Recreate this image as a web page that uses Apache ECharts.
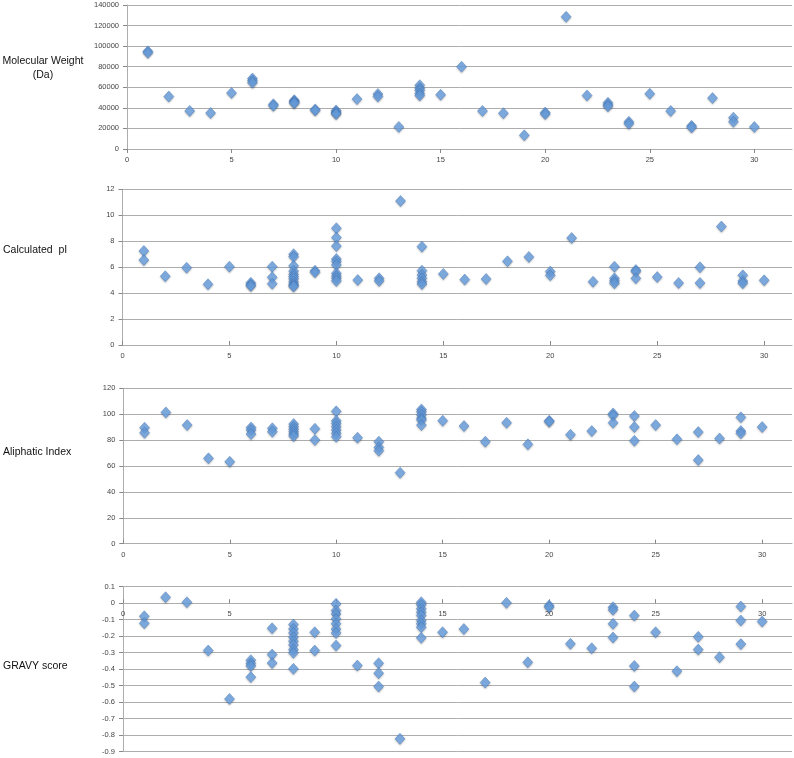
<!DOCTYPE html>
<html>
<head>
<meta charset="utf-8">
<script src="https://cdn.jsdelivr.net/npm/echarts@6/dist/echarts.min.js"></script>
<style>html,body{margin:0;padding:0;background:#fff}#c{width:794px;height:758px}</style>
</head>
<body>
<div id="c"></div>
<script>
// Panel titles
const panelTitles = ['Molecular Weight\n(Da)', 'Calculated  pI', 'Aliphatic Index', 'GRAVY score'];

// Molecular weight (Da): [group, value]
const mwData = [
  [1,95000],[1,93500],[2,51000],[3,37000],[4,35000],[5,54500],
  [6,68500],[6,66500],[6,64500],[7,43500],[7,42000],
  [8,47500],[8,46500],[8,45500],[8,44500],[9,38500],[9,37500],
  [10,37500],[10,36000],[10,35000],[10,34000],[11,48500],[12,53500],[12,51000],
  [13,21500],[14,62000],[14,59000],[14,57000],[14,54000],[14,52000],
  [15,52700],[16,80000],[17,37000],[18,34800],[19,13300],[20,35500],[20,34000],
  [21,128500],[22,52000],[23,45000],[23,43000],[23,41500],[24,26500],[24,24500],
  [25,53700],[26,37000],[27,22500],[27,21000],[28,49500],[29,30500],[29,26500],[30,21400]
];

// Calculated pI
const piData = [
  [1,7.25],[1,6.55],[2,5.3],[3,5.96],[4,4.68],[5,6.04],
  [6,4.8],[6,4.65],[6,4.55],[7,6.04],[7,5.22],[7,4.73],
  [8,7.0],[8,6.8],[8,6.1],[8,5.7],[8,5.45],[8,5.27],[8,5.1],[8,4.88],[8,4.7],[8,4.6],[8,4.5],
  [9,5.73],[9,5.6],
  [10,9.0],[10,8.28],[10,7.63],[10,6.63],[10,6.43],[10,6.17],[10,5.53],[10,5.32],[10,5.14],[10,4.94],
  [11,5.01],[12,5.14],[12,4.94],[13,11.1],
  [14,7.58],[14,5.73],[14,5.4],[14,5.14],[14,4.88],[14,4.7],
  [15,5.48],[16,5.04],[17,5.09],[18,6.45],[19,6.79],[20,5.66],[20,5.37],[21,8.25],[22,4.88],
  [23,6.04],[23,5.14],[23,4.94],[23,4.76],[24,5.78],[24,5.66],[24,5.14],[25,5.24],[26,4.78],
  [27,5.99],[27,4.78],[28,9.13],[29,5.37],[29,4.94],[29,4.76],[30,4.99]
];

// Aliphatic index
const aiData = [
  [1,89.6],[1,85.7],[2,101.4],[3,91.6],[4,65.9],[5,63.3],
  [6,89.8],[6,87.8],[6,84.7],[7,89.1],[7,86.5],
  [8,92.4],[8,90.3],[8,88.3],[8,86.5],[8,84.7],[8,83.1],[9,88.8],[9,80.1],
  [10,102.2],[10,95],[10,92.9],[10,90.3],[10,87.8],[10,85.2],[10,82.6],
  [11,81.9],[12,78.8],[12,74.4],[12,71.8],[13,54.8],
  [14,103.7],[14,101.9],[14,99.4],[14,96.8],[14,95.5],[14,91.6],
  [15,95],[16,90.9],[17,78.8],[18,93.4],[19,76.7],[20,95],[20,94.2],[21,84.2],[22,87],
  [23,100.6],[23,99.1],[23,93.4],[24,98.6],[24,90.1],[24,79.5],[25,91.6],[26,80.6],
  [27,86.2],[27,64.6],[28,81.3],[29,97.6],[29,87],[29,85.2],[30,90.1]
];

// GRAVY score
const gravyData = [
  [1,-0.079],[1,-0.121],[2,0.036],[3,0.006],[4,-0.287],[5,-0.58],
  [6,-0.345],[6,-0.365],[6,-0.38],[6,-0.448],[7,-0.152],[7,-0.311],[7,-0.362],
  [8,-0.129],[8,-0.156],[8,-0.18],[8,-0.206],[8,-0.23],[8,-0.253],[8,-0.281],[8,-0.301],[8,-0.398],
  [9,-0.176],[9,-0.287],
  [10,-0.004],[10,-0.044],[10,-0.065],[10,-0.095],[10,-0.125],[10,-0.156],[10,-0.18],[10,-0.257],
  [11,-0.378],[12,-0.364],[12,-0.424],[12,-0.505],[13,-0.822],
  [14,0.006],[14,-0.01],[14,-0.034],[14,-0.055],[14,-0.075],[14,-0.105],[14,-0.125],[14,-0.145],[14,-0.21],
  [15,-0.176],[16,-0.156],[17,-0.481],[18,0.002],[19,-0.358],[20,-0.014],[20,-0.024],
  [21,-0.246],[22,-0.273],[23,-0.024],[23,-0.04],[23,-0.125],[23,-0.208],
  [24,-0.075],[24,-0.38],[24,-0.505],[25,-0.176],[26,-0.412],[27,-0.204],[27,-0.281],
  [28,-0.327],[29,-0.02],[29,-0.105],[29,-0.248],[30,-0.111]
];

// Axis ranges
const xTickStep = 5;
const yRanges = [
  {min:0, max:140000, interval:20000},
  {min:0, max:12, interval:2},
  {min:0, max:120, interval:20},
  {min:-0.9, max:0.1, interval:0.1}
];
const xMaxes = [31.8, 31.3, 31.4, 31.4];

const layout = [
  {left:127, top:5, width:665, height:144, titleX:43, titleY:68, align:'center'},
  {left:122.5, top:189.3, width:669.5, height:155.7, titleX:3, titleY:250, align:'left'},
  {left:123.3, top:388.3, width:668.7, height:155.4, titleX:3, titleY:452, align:'left'},
  {left:123, top:586.7, width:669, height:165, titleX:3, titleY:666, align:'left'}
];
const allData = [mwData, piData, aiData, gravyData];

const gridLine = '#adadad';
const labelColor = '#444';
const labelFont = '"Liberation Sans", Arial, sans-serif';

const option = {
  animation:false,
  backgroundColor:'#fff',
  grid: layout.map(l => ({left:l.left, top:l.top, width:l.width, height:l.height, containLabel:false})),
  xAxis: layout.map((l,i) => {
    const r = yRanges[i];
    // x axis crosses the y axis at value 0 (inside the plot when 0 is not the minimum)
    const zeroOffset = r.min < 0 ? -((0 - r.min) / (r.max - r.min)) * l.height : 0;
    return {
      type:'value', gridIndex:i, min:0, max:xMaxes[i], interval:xTickStep,
      position:'bottom', offset:zeroOffset,
      axisLine:{show:true, onZero:false, lineStyle:{color:gridLine, width:1}},
      axisTick:{show:true, length:4, inside: i>0, lineStyle:{color:'#888'}},
      splitLine:{show:false},
      axisLabel:{color:labelColor, fontSize:7.5, fontFamily:labelFont, margin:7, showMaxLabel:false,
        formatter: v => (Math.abs(v % xTickStep) < 1e-9 ? String(v) : '')}
    };
  }),
  yAxis: layout.map((l,i) => ({
    type:'value', gridIndex:i, min:yRanges[i].min, max:yRanges[i].max, interval:yRanges[i].interval,
    axisLine:{show:true, onZero:false, lineStyle:{color:gridLine, width:1}},
    axisTick:{show:true, length:4, lineStyle:{color:'#888'}},
    splitLine:{show:true, lineStyle:{color:gridLine, width:1}},
    axisLabel:{color:labelColor, fontSize:7.5, fontFamily:labelFont, margin:8,
      formatter: v => String(Math.round(v*1000)/1000)}
  })),
  graphic: layout.map((l,i) => ({
    type:'text', x:l.titleX, y:l.titleY,
    style:{text:panelTitles[i], fill:'#111', font:'10.5px "Liberation Sans", Arial, sans-serif',
      textAlign:l.align, textVerticalAlign:'middle', lineHeight:14}
  })),
  series: allData.map((d,i) => ({
    type:'scatter', xAxisIndex:i, yAxisIndex:i, data:d,
    symbol:'diamond', symbolSize:[10,11],
    itemStyle:{color:'#6aa3e3', borderColor:'rgba(55,105,175,0.7)', borderWidth:0.7,
      shadowBlur:2, shadowColor:'rgba(0,0,0,0.3)', shadowOffsetY:1}
  }))
};

const chart = echarts.init(document.getElementById('c'), null, {renderer:'canvas'});
chart.setOption(option);
</script>
</body>
</html>
